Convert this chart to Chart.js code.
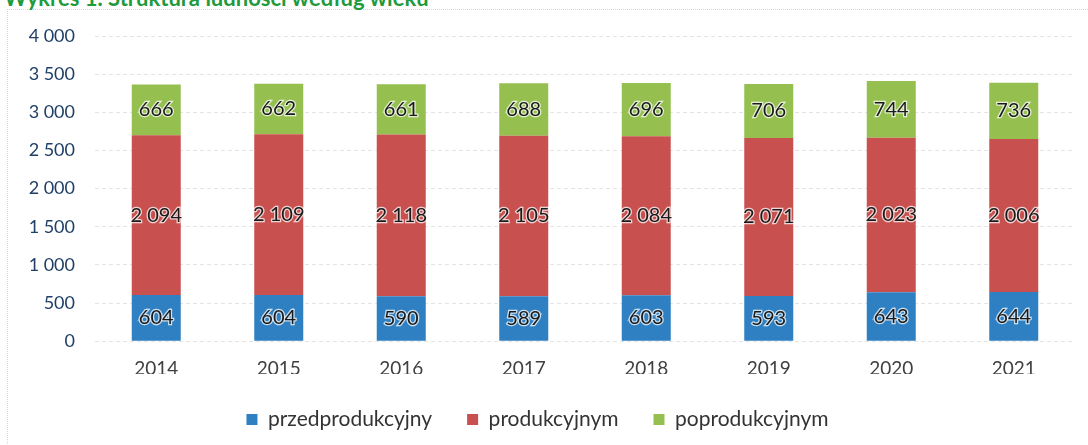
<!DOCTYPE html>
<html>
<head>
<meta charset="utf-8">
<script src="https://cdn.jsdelivr.net/npm/chart.js@4/dist/chart.umd.min.js"></script>
<style>
  html, body { margin: 0; padding: 0; background: #fff; }
  #wrap { position: relative; width: 1088px; height: 445px; overflow: hidden; }
  #title { position: absolute; left: 4px; top: -16px; font: bold 22px Lato, sans-serif; color: #1f9a3c; white-space: nowrap; }
  #frame { position: absolute; left: 7px; top: 9px; width: 1100px; height: 460px; border-left: 1px dotted #d8d8d8; border-top: 1px dotted #d8d8d8; }
  canvas { position: absolute; left: 0; top: 0; }
</style>
</head>
<body>
<div id="wrap">
  <div id="frame"></div>
  <div id="title">Wykres 1. Struktura ludności według wieku</div>
  <canvas id="chart" width="1088" height="445"></canvas>
</div>
<script>
const years = ['2014', '2015', '2016', '2017', '2018', '2019', '2020', '2021'];
const przed = [604, 604, 590, 589, 603, 593, 643, 644];
const prod = [2094, 2109, 2118, 2105, 2084, 2071, 2023, 2006];
const poprod = [666, 662, 661, 688, 696, 706, 744, 736];

// 2094 -> "2 094"
const fmt = (v) => String(v).replace(/\B(?=(\d{3})+(?!\d))/g, ' ');

const barLabels = {
  id: 'barLabels',
  afterDatasetsDraw(chart) {
    const ctx = chart.ctx;
    ctx.save();
    ctx.font = '20px Lato, sans-serif';
    ctx.textAlign = 'center';
    ctx.textBaseline = 'middle';
    chart.data.datasets.forEach((ds, i) => {
      chart.getDatasetMeta(i).data.forEach((bar, j) => {
        const y = (bar.y + bar.base) / 2;
        const txt = fmt(ds.data[j]);
        ctx.lineWidth = 2.5;
        ctx.strokeStyle = 'rgba(255,255,255,0.75)';
        ctx.strokeText(txt, bar.x, y);
        ctx.fillStyle = '#1a1a1a';
        ctx.fillText(txt, bar.x, y);
      });
    });
    ctx.restore();
  }
};

new Chart(document.getElementById('chart').getContext('2d'), {
  type: 'bar',
  data: {
    labels: years,
    datasets: [
      { label: 'przedprodukcyjny', data: przed, backgroundColor: '#2f80c3' },
      { label: 'produkcyjnym', data: prod, backgroundColor: '#c8504f' },
      { label: 'poprodukcyjnym', data: poprod, backgroundColor: '#95c04f' }
    ]
  },
  options: {
    responsive: false,
    animation: false,
    barPercentage: 0.4,
    categoryPercentage: 1,
    layout: { padding: { top: 36, right: 13, left: 0, bottom: 5 } },
    plugins: {
      tooltip: { enabled: false },
      legend: {
        position: 'bottom',
        labels: {
          boxWidth: 11, boxHeight: 11, padding: 35,
          color: '#333', font: { family: 'Lato', size: 21 }
        }
      }
    },
    scales: {
      x: {
        stacked: true,
        afterFit: (s) => { s.height -= 14; },
        grid: { display: false },
        border: { display: false },
        ticks: { color: '#404040', font: { family: 'Lato', size: 19 }, padding: 8 }
      },
      y: {
        stacked: true,
        min: 0, max: 4000,
        afterFit: (s) => { s.width = 95; },
        grid: { color: '#e4e4e4', tickLength: 0 },
        border: { display: false, dash: [4, 3] },
        ticks: {
          stepSize: 500, padding: 20,
          color: '#1f3f66', font: { family: 'Lato', size: 18 },
          callback: (v) => fmt(v)
        }
      }
    }
  },
  plugins: [barLabels]
});
</script>
</body>
</html>
